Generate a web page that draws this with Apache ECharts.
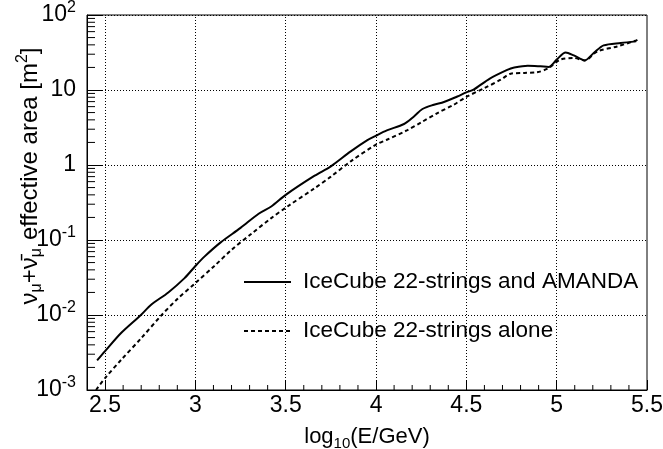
<!DOCTYPE html>
<html>
<head>
<meta charset="utf-8">
<script src="https://cdn.jsdelivr.net/npm/echarts@6/dist/echarts.min.js"></script>
<style>
html,body{margin:0;padding:0;background:#fff;}
#chart{width:663px;height:449px;}
</style>
</head>
<body>
<div id="chart"></div>
<script>
// ---- data ----
var seriesNames = ['IceCube 22-strings and AMANDA', 'IceCube 22-strings alone'];

var combinedX = [2.456,2.5,2.59,2.70,2.755,2.85,2.94,3.0,3.05,3.14,3.25,3.35,3.42,3.50,3.66,3.75,3.86,3.95,4.00,4.06,4.155,4.21,4.257,4.32,4.376,4.45,4.5,4.54,4.63,4.73,4.76,4.84,4.91,4.955,5.0,5.05,5.095,5.155,5.205,5.26,5.355,5.44];
var combinedY = [0.00248,0.0033,0.0058,0.0101,0.0137,0.020,0.031,0.045,0.060,0.093,0.145,0.224,0.28,0.40,0.72,0.96,1.52,2.13,2.46,2.89,3.52,4.44,5.58,6.36,6.92,8.2,9.3,10.1,14.2,18.7,19.8,21.1,20.7,20.3,25.4,31.7,28.9,24.8,31.1,39.3,42.4,44.5];

var aloneX = [2.45,2.5,2.59,2.70,2.81,2.90,3.0,3.105,3.2,3.31,3.42,3.51,3.66,3.75,3.86,4.0,4.06,4.17,4.25,4.34,4.43,4.5,4.6,4.69,4.745,4.82,4.89,4.955,5.02,5.095,5.155,5.225,5.335,5.44,5.45];
var aloneY = [0.001,0.00144,0.00254,0.0049,0.0098,0.0163,0.0267,0.045,0.074,0.121,0.196,0.28,0.49,0.70,1.12,1.87,2.17,2.89,3.70,4.93,6.36,8.1,10.6,13.7,16.5,16.9,17.2,19.6,25.4,26.7,24.8,32.7,38.1,45.8,47.5];

// ---- axes / ticks ----
var xMin = 2.4, xMax = 5.5;
var yMin = 0.001, yMax = 100;
var xMajorTicks = [2.5, 3, 3.5, 4, 4.5, 5, 5.5];
var xGridLines = [2.5, 3, 3.5, 4, 4.5, 5];
var xMinorTicks = [2.6,2.7,2.8,2.9,3.1,3.2,3.3,3.4,3.6,3.7,3.8,3.9,4.1,4.2,4.3,4.4,4.6,4.7,4.8,4.9,5.1,5.2,5.3,5.4];
var yMinorMantissas = [2,3,4,5,6,7,8,9];
var yDecades = [0.001, 0.01, 0.1, 1, 10];

var FONT = '"Liberation Sans", Arial, Helvetica, sans-serif';

function pairs(xs, ys){ var out=[]; for (var i=0;i<xs.length;i++) out.push([xs[i], ys[i]]); return out; }

var yMinorTicks = [];
yDecades.forEach(function(d){ yMinorMantissas.forEach(function(m){ yMinorTicks.push([xMin, +(m*d).toPrecision(3)]); }); });
var xMinorData = xMinorTicks.map(function(v){ return [v, yMin]; });

var labelRich = {
  b: {fontSize: 23, fontFamily: FONT, color: '#000', verticalAlign: 'middle'},
  s: {fontSize: 16, fontFamily: FONT, color: '#000', verticalAlign: 'middle', padding: [0,0,14,0]}
};
var TS = 24;
var titleRich = {
  b: {fontSize: TS, fontFamily: FONT, color: '#000', verticalAlign: 'middle'},
  e: {fontSize: TS, fontFamily: FONT, color: '#000', verticalAlign: 'middle', padding: [0,0,0,8]},
  s: {fontSize: 16, fontFamily: FONT, color: '#000', verticalAlign: 'middle', padding: [0,0,14,0]},
  u: {fontSize: 16, fontFamily: FONT, color: '#000', verticalAlign: 'middle', padding: [14,0,0,0]}
};

var chart = echarts.init(document.getElementById('chart'), null, {renderer: 'canvas'});

var option = {
  animation: false,
  backgroundColor: '#fff',
  textStyle: {fontFamily: FONT},
  grid: {left: 87, right: 16, top: 15, bottom: 59, containLabel: false, outerBoundsMode: 'none',
    show: true, borderColor: '#000', borderWidth: 1, backgroundColor: 'transparent'},
  graphic: [{
    type: 'text', x: 30, y: 176, rotation: Math.PI / 2, silent: true,
    style: {
      text: '{b|ν}{u|μ}{b|+ν\u0304}{u|μ}{e|effective area [m}{s|2}{b|]}',
      rich: titleRich, fontFamily: FONT, fontSize: TS, fill: '#000',
      align: 'center', verticalAlign: 'middle'
    }
  }],
  legend: {
    data: seriesNames,
    orient: 'vertical',
    left: 243, top: 269, padding: 0,
    itemWidth: 47, itemHeight: 14, itemGap: 23,
    itemStyle: {opacity: 0, color: 'transparent', borderWidth: 0},
    textStyle: {fontSize: 22.5, fontFamily: FONT, color: '#000', lineHeight: 26, padding: [0,0,0,7]},
    selectedMode: false
  },
  xAxis: {
    type: 'value', min: xMin, max: xMax,
    name: 'log{u|10}(E/GeV)',
    nameLocation: 'middle', nameGap: 33,
    nameTextStyle: {fontSize: 22, fontFamily: FONT, color: '#000', rich: {u: {fontSize: 15, fontFamily: FONT, color:'#000', verticalAlign:'middle', padding:[13,0,0,0]}}},
    axisLine: {show: true, lineStyle: {color: '#000', width: 1}},
    axisTick: {show: true, inside: true, length: 10, customValues: xMajorTicks, lineStyle: {color: '#000'}},
    axisLabel: {customValues: xMajorTicks, fontSize: 23, fontFamily: FONT, color: '#000', margin: 4,
      formatter: function(v){ return String(+v.toFixed(1)); }},
    splitLine: {show: false}
  },
  yAxis: {
    type: 'log', logBase: 10, min: yMin, max: yMax,
    axisLine: {show: true, lineStyle: {color: '#000', width: 1}},
    axisTick: {show: true, inside: true, length: 16, lineStyle: {color: '#000'}},
    axisLabel: {fontSize: 23, fontFamily: FONT, color: '#000', margin: 11, rich: labelRich,
      formatter: function(v){
        var e = Math.round(Math.log(v)/Math.LN10);
        if (e === 0) return '{b|1}';
        if (e === 1) return '{b|10}';
        return '{b|10}{s|' + e + '}';
      }},
    splitLine: {show: true, lineStyle: {color: '#000', type: [1,2], width: 1}}
  },
  series: [
    {
      name: seriesNames[0], type: 'line', data: pairs(combinedX, combinedY),
      symbol: 'none', smooth: 0.3, lineStyle: {color: '#000', width: 2, type: 'solid'},
      itemStyle: {color: '#000'}, z: 5,
      markLine: {
        silent: true, symbol: ['none','none'], label: {show: false},
        lineStyle: {color: '#000', type: [1,2], width: 1},
        data: xGridLines.map(function(v){ return {xAxis: v}; })
      }
    },
    {
      name: seriesNames[1], type: 'line', data: pairs(aloneX, aloneY),
      symbol: 'none', smooth: 0.3, lineStyle: {color: '#000', width: 2, type: [4,3]},
      itemStyle: {color: '#000'}, z: 5
    },
    {
      name: 'xMinor', type: 'custom', data: xMinorData, silent: true, z: 6,
      renderItem: function(params, api){
        var p = api.coord([api.value(0), api.value(1)]);
        return {type: 'line', shape: {x1: p[0], y1: p[1], x2: p[0], y2: p[1]-5}, style: {stroke: '#000', lineWidth: 1}};
      }
    },
    {
      name: 'yMinor', type: 'custom', data: yMinorTicks, silent: true, z: 6,
      renderItem: function(params, api){
        var p = api.coord([api.value(0), api.value(1)]);
        return {type: 'line', shape: {x1: p[0], y1: p[1], x2: p[0]+8, y2: p[1]}, style: {stroke: '#000', lineWidth: 1}};
      }
    }
  ]
};
chart.setOption(option);
</script>
</body>
</html>
